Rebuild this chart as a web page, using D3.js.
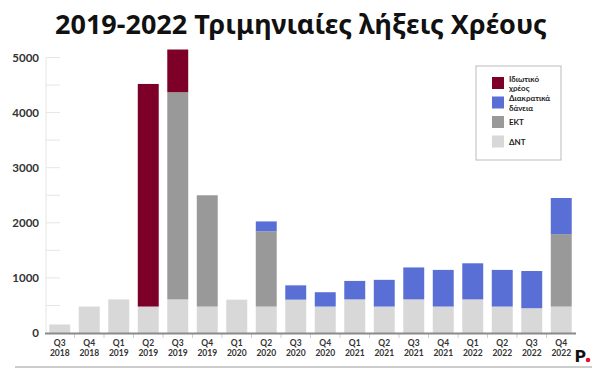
<!DOCTYPE html>
<html>
<head>
<meta charset="utf-8">
<script src="https://cdn.jsdelivr.net/npm/d3@7"></script>
<style>
  body { margin: 0; background: #fff; }
  svg { display: block; font-family: Lato, "Noto Sans", sans-serif; }
</style>
</head>
<body>
<div id="chart"></div>
<script>
// quarters and the four debt components (million euro)
const quarters = ["Q3 2018", "Q4 2018", "Q1 2019", "Q2 2019", "Q3 2019", "Q4 2019",
  "Q1 2020", "Q2 2020", "Q3 2020", "Q4 2020", "Q1 2021", "Q2 2021",
  "Q3 2021", "Q4 2021", "Q1 2022", "Q2 2022", "Q3 2022", "Q4 2022"];
const dnt     = [155, 480, 610, 480, 610, 480, 605, 480, 605, 480, 610, 480, 610, 480, 610, 480, 450, 480];
const ekt     = [0, 0, 0, 0, 3760, 2020, 0, 1365, 0, 0, 0, 0, 0, 0, 0, 0, 0, 1315];
const loans   = [0, 0, 0, 0, 0, 0, 0, 180, 260, 260, 335, 485, 580, 665, 655, 665, 675, 655];
const private_ = [0, 0, 0, 4040, 775, 0, 0, 0, 0, 0, 0, 0, 0, 0, 0, 0, 0, 0];
const yTicks = [0, 1000, 2000, 3000, 4000, 5000];

const keys = ["dnt", "ekt", "loans", "private"];
const colours = { dnt: "#d8d8d8", ekt: "#999999", loans: "#5a6fd5", private: "#7d0028" };
const legendItems = [
  { key: "private", lines: ["Ιδιωτικό", "χρέος"] },
  { key: "loans", lines: ["Διακρατικά", "δάνεια"] },
  { key: "ekt", lines: ["ΕΚΤ"] },
  { key: "dnt", lines: ["ΔΝΤ"] }
];

const rows = quarters.map((q, i) => ({
  q: q, dnt: dnt[i], ekt: ekt[i], loans: loans[i], private: private_[i]
}));

const width = 600, height = 376;
const svg = d3.select("#chart").append("svg")
  .attr("width", width).attr("height", height);

// title
svg.append("text")
  .attr("x", 301).attr("y", 34)
  .attr("text-anchor", "middle")
  .attr("font-family", "'Noto Sans', sans-serif")
  .attr("font-size", 27).attr("font-weight", 700)
  .attr("fill", "#111")
  .text("2019-2022 Τριμηνιαίες λήξεις Χρέους");

const x = d3.scaleBand()
  .domain(quarters)
  .range([45, 576])
  .paddingInner(0.29)
  .paddingOuter(0.145);

const y = d3.scaleLinear()
  .domain([0, 5000])
  .range([333, 57.5]);

// y axis: light line with short ticks every 500
svg.append("line")
  .attr("x1", 46).attr("x2", 46)
  .attr("y1", y(5000)).attr("y2", y(0))
  .attr("stroke", "#e6e6e6");

svg.selectAll(".minor")
  .data(d3.range(500, 5001, 500))
  .enter().append("line")
  .attr("x1", 46).attr("x2", 60)
  .attr("y1", d => y(d)).attr("y2", d => y(d))
  .attr("stroke", "#e6e6e6");

svg.selectAll(".ylab")
  .data(yTicks)
  .enter().append("text")
  .attr("x", 39).attr("y", d => y(d) + 4)
  .attr("text-anchor", "end")
  .attr("font-size", 11.5).attr("font-weight", 700)
  .attr("fill", "#333")
  .text(d => d);

// stacked bars
const series = d3.stack().keys(keys)(rows);

svg.append("g").selectAll("g")
  .data(series)
  .enter().append("g")
  .attr("fill", d => colours[d.key])
  .selectAll("rect")
  .data(d => d)
  .enter().append("rect")
  .attr("x", d => x(d.data.q))
  .attr("width", x.bandwidth())
  .attr("y", d => y(d[1]))
  .attr("height", d => y(d[0]) - y(d[1]));

// x axis baseline and separators
svg.selectAll(".sep")
  .data(quarters.slice(1))
  .enter().append("line")
  .attr("x1", d => x(d) - x.step() * x.paddingInner() / 2)
  .attr("x2", d => x(d) - x.step() * x.paddingInner() / 2)
  .attr("y1", y(0)).attr("y2", y(0) + 5)
  .attr("stroke", "#cfcfcf");

svg.append("line")
  .attr("x1", 45).attr("x2", 576)
  .attr("y1", y(0) + 0.5).attr("y2", y(0) + 0.5)
  .attr("stroke", "#8a8a8a").attr("stroke-width", 2);

// two-line quarter labels
[0, 1].forEach(k => {
  svg.append("g").selectAll("text")
    .data(quarters)
    .enter().append("text")
    .attr("x", d => x(d) + x.bandwidth() / 2)
    .attr("y", 345.5 + k * 10.5)
    .attr("text-anchor", "middle")
    .attr("font-size", 8.5).attr("font-weight", 700)
    .attr("fill", "#333")
    .text(d => d.split(" ")[k]);
});

// legend
const lg = svg.append("g");
lg.append("rect")
  .attr("x", 476).attr("y", 66).attr("width", 85).attr("height", 94)
  .attr("fill", "#fff").attr("stroke", "#bbb");
const li = lg.selectAll("g")
  .data(legendItems)
  .enter().append("g")
  .attr("transform", (d, i) => "translate(492," + (77 + i * 19.5) + ")");
li.append("rect")
  .attr("width", 12).attr("height", 12)
  .attr("fill", d => colours[d.key]);
li.each(function(d) {
  const g = d3.select(this);
  const off = d.lines.length === 1 ? 9 : 4.8;
  d.lines.forEach((t, k) => {
    g.append("text")
      .attr("x", 17).attr("y", off + k * 9.6)
      .attr("font-size", 8).attr("font-weight", 700)
      .attr("fill", "#222")
      .text(t);
  });
});

// footer rule and logo
svg.append("line")
  .attr("x1", 15).attr("x2", 592)
  .attr("y1", 367).attr("y2", 367)
  .attr("stroke", "#9a9a9a");

svg.append("text")
  .attr("x", 575).attr("y", 362)
  .attr("font-size", 17).attr("font-weight", 900)
  .attr("font-family", "Roboto, sans-serif")
  .attr("fill", "#111")
  .text("P");
svg.append("circle")
  .attr("cx", 588).attr("cy", 360).attr("r", 2.3)
  .attr("fill", "#e8102a");
</script>
</body>
</html>
